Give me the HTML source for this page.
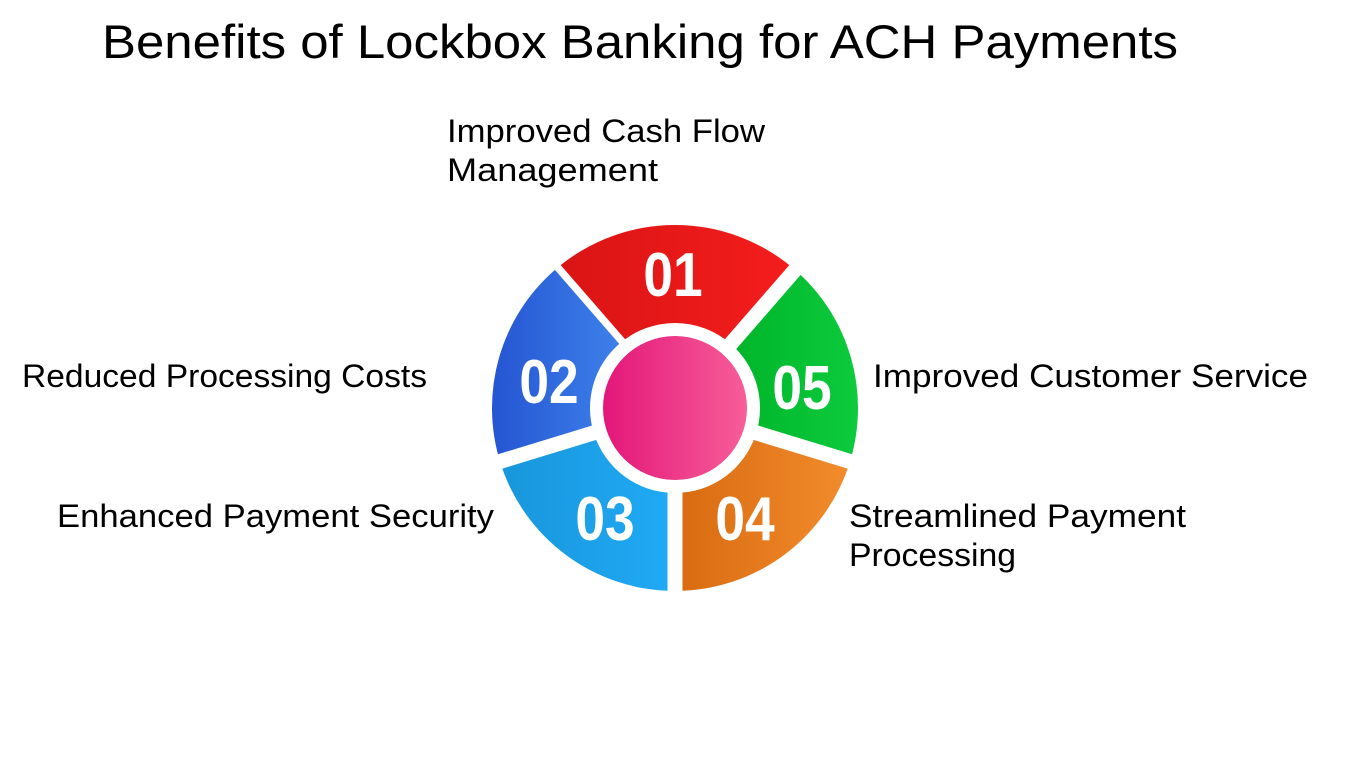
<!DOCTYPE html>
<html><head><meta charset="utf-8"><style>
html,body{margin:0;padding:0;background:#fff;width:1350px;height:759px;overflow:hidden}
svg{display:block}
.l{font-family:"Liberation Sans",sans-serif;font-size:32px;fill:#000}
.n{font-family:"Liberation Sans",sans-serif;font-weight:bold;font-size:62px;fill:#fff}
</style></head><body>
<svg id="s" width="1350" height="759" viewBox="0 0 1350 759" xmlns="http://www.w3.org/2000/svg">
<defs>
<linearGradient id="g1" x1="0" x2="1"><stop offset="0" stop-color="#d91414"/><stop offset="1" stop-color="#f51d1d"/></linearGradient>
<linearGradient id="g2" x1="0" x2="1"><stop offset="0" stop-color="#2555d2"/><stop offset="1" stop-color="#3d80ea"/></linearGradient>
<linearGradient id="g3" x1="0" x2="1"><stop offset="0" stop-color="#1896da"/><stop offset="1" stop-color="#20aaf6"/></linearGradient>
<linearGradient id="g4" x1="0" x2="1"><stop offset="0" stop-color="#d86a10"/><stop offset="1" stop-color="#f28c2c"/></linearGradient>
<linearGradient id="g5" x1="0" x2="1"><stop offset="0" stop-color="#00b42a"/><stop offset="1" stop-color="#0ccb3c"/></linearGradient>
<linearGradient id="gp" x1="0" x2="1"><stop offset="0" stop-color="#e3167a"/><stop offset="1" stop-color="#f75e98"/></linearGradient>
</defs>
<text x="102" y="58" font-family="Liberation Sans, sans-serif" font-size="47" textLength="1076" lengthAdjust="spacingAndGlyphs">Benefits of Lockbox Banking for ACH Payments</text>
<g id="ring"></g>
<circle cx="675" cy="408" r="72" fill="url(#gp)"/>
<g transform="translate(673,296) scale(0.86,1)"><text class="n" x="0" y="0" text-anchor="middle">01</text></g>
<g transform="translate(549,403) scale(0.86,1)"><text class="n" x="0" y="0" text-anchor="middle">02</text></g>
<g transform="translate(605,540) scale(0.86,1)"><text class="n" x="0" y="0" text-anchor="middle">03</text></g>
<g transform="translate(745,540) scale(0.86,1)"><text class="n" x="0" y="0" text-anchor="middle">04</text></g>
<g transform="translate(802,409) scale(0.86,1)"><text class="n" x="0" y="0" text-anchor="middle">05</text></g>
<text class="l" x="447" y="142" textLength="318" lengthAdjust="spacingAndGlyphs">Improved Cash Flow</text>
<text class="l" x="447" y="181" textLength="211" lengthAdjust="spacingAndGlyphs">Management</text>
<text class="l" x="22" y="387" textLength="405" lengthAdjust="spacingAndGlyphs">Reduced Processing Costs</text>
<text class="l" x="873" y="387" textLength="435" lengthAdjust="spacingAndGlyphs">Improved Customer Service</text>
<text class="l" x="57" y="527" textLength="437" lengthAdjust="spacingAndGlyphs">Enhanced Payment Security</text>
<text class="l" x="849" y="527" textLength="337" lengthAdjust="spacingAndGlyphs">Streamlined Payment</text>
<text class="l" x="849" y="566" textLength="167" lengthAdjust="spacingAndGlyphs">Processing</text>
</svg>
<script>
(function(){
var cx=675,cy=408,R=183,r=85,ns="http://www.w3.org/2000/svg",g=document.getElementById('ring');
var segs=[[-131,-49,'g1'],[-49,17,'g5'],[17,90,'g4'],[90,163,'g3'],[163,229,'g2']];
function p(a,rad){a=a*Math.PI/180;return [cx+rad*Math.cos(a),cy+rad*Math.sin(a)];}
segs.forEach(function(s){
 var a=p(s[0],R),b=p(s[1],R),c=p(s[1],r),d=p(s[0],r);
 var path=document.createElementNS(ns,'path');
 path.setAttribute('d','M'+a+' A'+R+' '+R+' 0 0 1 '+b+' L'+c+' A'+r+' '+r+' 0 0 0 '+d+'Z');
 path.setAttribute('fill','url(#'+s[2]+')');g.appendChild(path);
 var e=p(s[0],R+5),l=document.createElementNS(ns,'line');
 l.setAttribute('x1',cx);l.setAttribute('y1',cy);l.setAttribute('x2',e[0]);l.setAttribute('y2',e[1]);
 l.setAttribute('stroke','#fff');l.setAttribute('stroke-width','15');g.appendChild(l);
});
})();
</script>
</body></html>
